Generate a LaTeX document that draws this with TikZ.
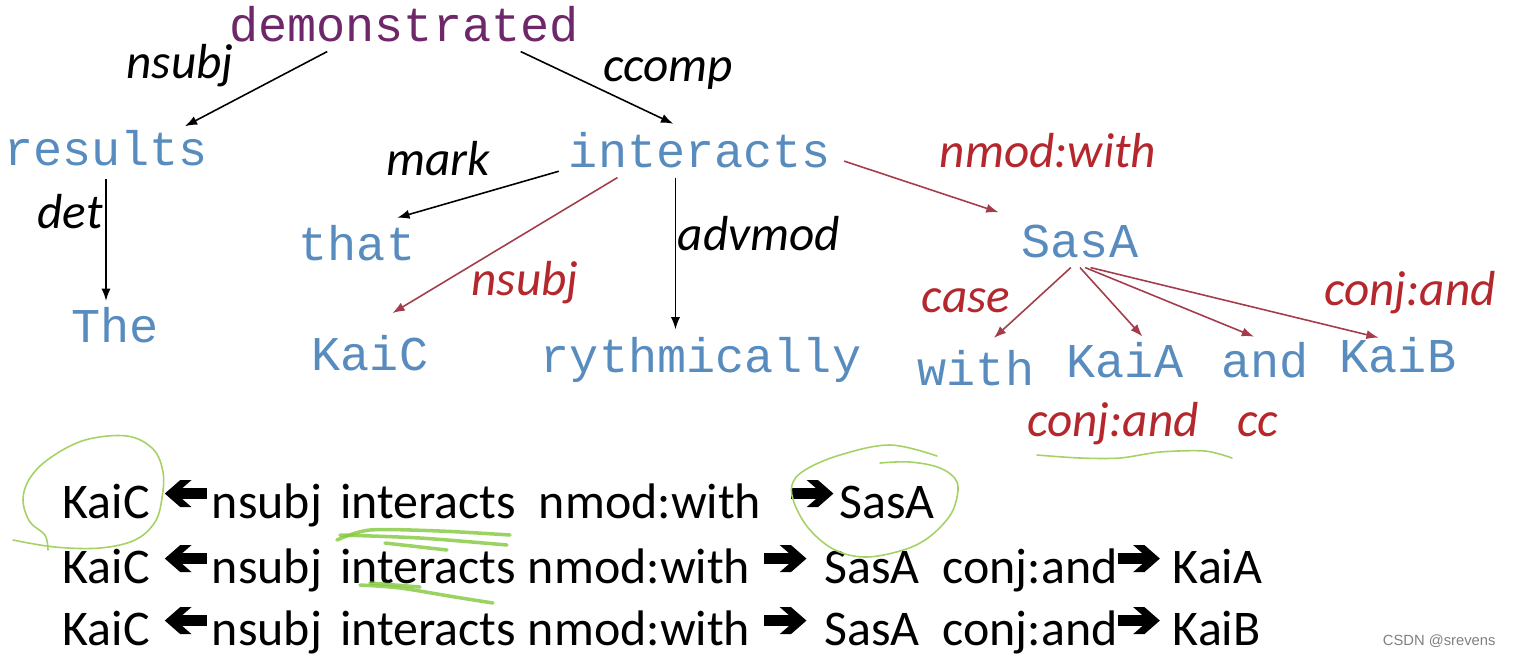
\documentclass[tikz,border=0pt]{standalone}
\usepackage{graphicx}
\usepackage{fontspec}
\setmainfont{Carlito}
\newfontfamily\wordfont{Liberation Mono}
\newfontfamily\wmfont{Liberation Sans}
\usetikzlibrary{arrows.meta}

\definecolor{wordblue}{RGB}{88,140,190}
\definecolor{rootpurple}{RGB}{110,40,105}
\definecolor{relred}{RGB}{180,40,45}
\definecolor{arcred}{RGB}{165,60,75}
\definecolor{pengreen}{RGB}{165,210,100}
\definecolor{hlgreen}{RGB}{130,200,60}

% fat arrows of the path lines
\newcommand{\rarr}{\tikz[x=1pt,y=1pt,baseline=0pt]{\fill (0,5.5) rectangle (9,8.4); \fill (4.4,10.8) -- (7.6,10.8) -- (12,6.95) -- (7.6,3.1) -- (4.4,3.1) -- (8.8,6.95) -- cycle;}}
\newcommand{\larr}{\reflectbox{\rarr}}

\begin{document}
\begin{tikzpicture}[x=0.01cm,y=-0.01cm,>={Latex[length=3.5pt,width=2.6pt]},
	word/.style={font=\wordfont\fontsize{13.8}{16}\selectfont,text=wordblue,inner sep=0pt,text height=8.5pt,text depth=2.8pt,anchor=base},
	rel/.style={font=\itshape\fontsize{14}{16}\selectfont,inner sep=0pt,anchor=base},
	rowtext/.style={font=\fontsize{14.2}{17}\selectfont,inner sep=0pt,anchor=base west},
	deparc/.style={->,line width=0.45pt},
	redarc/.style={deparc,color=arcred},
	pen/.style={draw=pengreen,line width=0.45pt,line cap=round},
	hl/.style={draw=hlgreen,line width=1pt,line cap=round,opacity=0.8}]
	\useasboundingbox (0,0) rectangle (1517,656);
	% words
	\node[word,text=rootpurple] (dem) at (404,41) {demonstrated};
	\node[word] (res) at (106,165) {results};
	\node[word] (int) at (700,167) {interacts};
	\node[word] (that) at (357,260) {that};
	\node[word] (the) at (115,342) {The};
	\node[word] (kaic) at (370,370) {KaiC};
	\node[word] (ryth) at (701,372) {rythmically};
	\node[word] (sasa) at (1080,257) {SasA};
	\node[word] (with) at (976,385) {with};
	\node[word] (kaia) at (1125,377) {KaiA};
	\node[word] (and) at (1265,377) {and};
	\node[word] (kaib) at (1398,372) {KaiB};
	%
	\path[deparc]
	(dem.195) edge[shorten >=5pt] (res.18)
	(dem.350) edge[shorten >=8.4pt] (int.north)
	(res.south) edge[shorten <=1pt,shorten >=3pt] (res.south |- the.north)
	(int.185) edge[shorten <=2.8pt,shorten >=11.9pt] (that.north)
	(int.220) edge[shorten >=3.4pt] (int.220 |- ryth.north);
	\path[redarc]
	(int.194) edge[shorten >=14.5pt] (kaic.136)
	(int.east) edge[shorten <=3.7pt,shorten >=12.8pt] (sasa.152)
	(sasa.246) edge[shorten >=6.9pt] (with.north)
	(sasa.south) edge[shorten >=3.8pt] (kaia.38)
	(sasa.284) edge[shorten >=7.3pt] (and.58)
	(sasa.297) edge[shorten >=4.6pt] (kaib.100);
	% relation labels
	\node[rel] (lnsubj) at (180,78) {nsubj};
	\node[rel] (lccomp) at (668,81) {ccomp};
	\node[rel] (lmark) at (438,175) {mark};
	\node[rel] (ldet) at (70,228) {det};
	\node[rel,text=relred] (lnsubjr) at (525,295) {nsubj};
	\node[rel] (ladv) at (759,250) {advmod};
	\node[rel,text=relred] (lnmod) at (1048,167) {nmod:with};
	\node[rel,text=relred] (lcase) at (966,312) {case};
	\node[rel,text=relred] (lconjb) at (1410,305) {conj:and};
	\node[rel,text=relred] (lconja) at (1113,436) {conj:and};
	\node[rel,text=relred] (lcc) at (1258,436) {cc};
	% paths
	\node[rowtext] (row1) at (62,518) {KaiC\hspace{0.3em}\larr\hspace{0.1em}nsubj\hspace{0.36em}interacts\hspace{0.46em}nmod:with\hspace{0.6em}\rarr\hspace{0.12em}SasA};
	\node[rowtext] (row2) at (62,583) {KaiC\hspace{0.3em}\larr\hspace{0.1em}nsubj\hspace{0.36em}interacts\hspace{0.24em}nmod:with\hspace{0.28em}\rarr\hspace{0.36em}SasA\hspace{0.46em}conj:and\rarr\hspace{0.26em}KaiA};
	\node[rowtext] (row3) at (62,645) {KaiC\hspace{0.3em}\larr\hspace{0.1em}nsubj\hspace{0.36em}interacts\hspace{0.24em}nmod:with\hspace{0.28em}\rarr\hspace{0.36em}SasA\hspace{0.46em}conj:and\rarr\hspace{0.26em}KaiB};
	% pen marks
	\draw[pen] plot[smooth,tension=0.6] coordinates {(48,550) (45,535) (30,522) (23,500) (30,478) (50,458) (85,440) (127,436) (153,449) (163,472) (162,498) (155,522) (135,540) (100,548) (55,547) (13,540)};
	\draw[pen] plot[smooth,tension=0.6] coordinates {(880,463) (910,462) (940,468) (957,482) (955,505) (945,522) (925,540) (900,551) (865,557) (835,550) (810,530) (795,505) (792,485) (805,470) (840,455) (890,445) (937,456)};
	\draw[pen] plot[smooth] coordinates {(1037,455) (1080,458) (1120,458) (1160,452) (1205,451) (1232,458)};
	\draw[hl] plot[smooth] coordinates {(337,540) (370,530) (440,531) (510,535)};
	\draw[hl] plot[smooth] coordinates {(340,535) (420,538) (507,545)};
	\draw[hl] plot[smooth] coordinates {(385,543) (447,550)};
	\draw[hl] plot[smooth] coordinates {(360,585) (400,588) (455,597) (493,603)};
	\draw[hl] plot[smooth] coordinates {(370,583) (420,587)};
	\node[font=\wmfont\fontsize{4.2}{5}\selectfont,text=gray,anchor=base east] (wm) at (1508,645) {CSDN @srevens};
\end{tikzpicture}
\end{document}
